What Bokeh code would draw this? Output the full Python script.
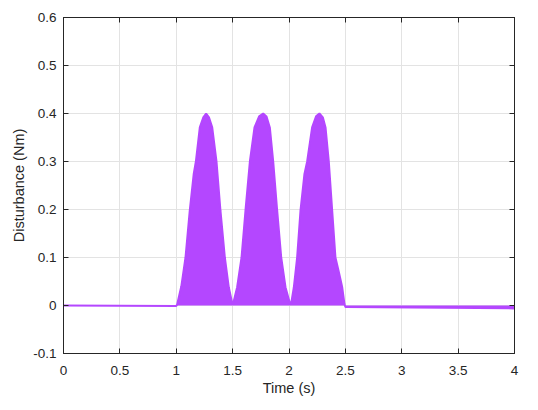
from bokeh.plotting import figure
from bokeh.models import FixedTicker, LinearAxis, CustomJSTickFormatter, Range1d
from bokeh.embed import file_html
from bokeh.resources import INLINE

# Disturbance signal envelope (time in s, disturbance in Nm)
time_s = [0.0, 1.0, 1.008, 1.045, 1.082, 1.12, 1.155, 1.174, 1.209, 1.24, 1.265, 1.29, 1.319, 1.357,
          1.392, 1.431, 1.466, 1.496, 1.505, 1.54, 1.579, 1.614, 1.653, 1.694, 1.735, 1.771, 1.80,
          1.83, 1.86, 1.895, 1.931, 1.969, 2.007, 2.019, 2.043, 2.072, 2.102, 2.137, 2.161, 2.205,
          2.24, 2.27, 2.30, 2.324, 2.353, 2.383, 2.412, 2.442, 2.472, 2.492, 2.5, 4.0]
disturbance = [0.0, -0.001, 0.002, 0.04, 0.10, 0.198, 0.274, 0.30, 0.371, 0.392, 0.40, 0.392, 0.371,
               0.30, 0.198, 0.10, 0.038, 0.005, 0.004, 0.038, 0.10, 0.198, 0.30, 0.371, 0.394, 0.40,
               0.394, 0.371, 0.30, 0.198, 0.10, 0.038, 0.005, 0.004, 0.038, 0.10, 0.198, 0.274, 0.30,
               0.371, 0.394, 0.40, 0.392, 0.371, 0.30, 0.198, 0.10, 0.07, 0.038, 0.003, -0.003, -0.006]

x_ticks = [0, 0.5, 1, 1.5, 2, 2.5, 3, 3.5, 4]
y_ticks = [-0.1, 0, 0.1, 0.2, 0.3, 0.4, 0.5, 0.6]

FONT = "Liberation Sans"
TXT = "#262626"
FILL = "#B447FF"

p = figure(width=522, height=400, output_backend="svg", toolbar_location=None,
           x_range=Range1d(0, 4), y_range=Range1d(-0.1, 0.6),
           min_border_left=63, min_border_right=8, min_border_top=17, min_border_bottom=47,
           x_axis_label="Time (s)", y_axis_label="Disturbance (Nm)")
p.outline_line_color = TXT
p.background_fill_color = "white"
p.border_fill_color = "white"

fmt = CustomJSTickFormatter(code="return String(Number(tick.toFixed(3)));")
blank = CustomJSTickFormatter(code="return '';")

for ax, ticks in ((p.xaxis[0], x_ticks), (p.yaxis[0], y_ticks)):
    ax.ticker = FixedTicker(ticks=ticks)
    ax.formatter = fmt
    ax.major_tick_in = 5
    ax.major_tick_out = 0
    ax.minor_tick_in = 0
    ax.minor_tick_out = 0
    ax.axis_line_color = TXT
    ax.major_tick_line_color = TXT
    ax.major_label_text_font = FONT
    ax.major_label_text_font_size = "13.5px"
    ax.major_label_text_color = TXT
    ax.axis_label_text_font = FONT
    ax.axis_label_text_font_size = "14.5px"
    ax.axis_label_text_font_style = "normal"
    ax.axis_label_text_color = TXT

p.xaxis.major_label_standoff = 12
p.xaxis.axis_label_standoff = 2
p.yaxis.major_label_standoff = 7
p.yaxis.axis_label_standoff = 3

for loc, ticks in (("above", x_ticks), ("right", y_ticks)):
    a = LinearAxis(ticker=FixedTicker(ticks=ticks), formatter=blank,
                   major_tick_in=5, major_tick_out=0, minor_tick_in=0, minor_tick_out=0,
                   axis_line_color=TXT, major_tick_line_color=TXT, major_label_standoff=0)
    p.add_layout(a, loc)

p.xgrid.ticker = FixedTicker(ticks=x_ticks)
p.ygrid.ticker = FixedTicker(ticks=y_ticks)
p.grid.grid_line_color = "#e3e3e3"
p.grid.grid_line_width = 1

p.varea(x=time_s, y1=0, y2=disturbance, fill_color=FILL, fill_alpha=1.0)
p.line(time_s, disturbance, line_color=FILL, line_width=2)

open("out.html", "w").write(file_html(p, INLINE))
